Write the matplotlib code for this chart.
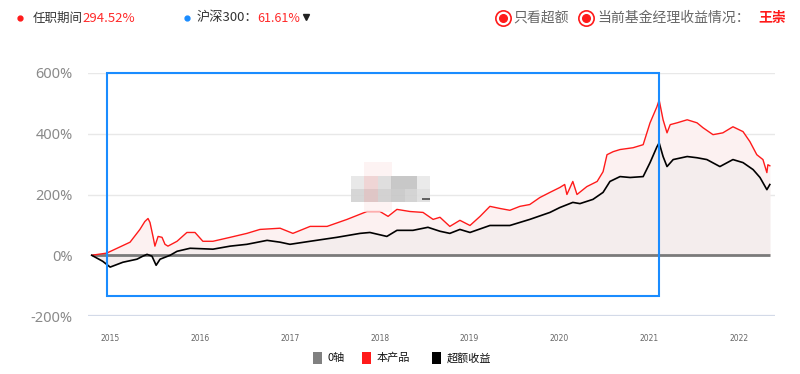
import matplotlib
matplotlib.use("Agg")
import matplotlib.pyplot as plt
import matplotlib.dates as mdates
from matplotlib.patches import Rectangle
from matplotlib.lines import Line2D
import pandas as pd

plt.rcParams['font.family'] = ['Noto Sans CJK SC', 'DejaVu Sans']

# ---------------- data ----------------
red_dates = ['2014-10-18', '2014-12-18', '2015-03-23', '2015-05-02', '2015-05-22', '2015-06-04',
             '2015-06-12', '2015-06-25', '2015-07-02', '2015-07-15', '2015-07-31', '2015-08-12',
             '2015-08-24', '2015-09-30', '2015-11-09', '2015-12-12', '2016-01-13', '2016-02-23',
             '2016-05-03', '2016-07-10', '2016-09-01', '2016-11-22', '2017-01-13', '2017-03-24',
             '2017-06-01', '2017-08-21', '2017-11-10', '2018-01-02', '2018-02-04', '2018-03-12',
             '2018-05-04', '2018-06-26', '2018-08-06', '2018-09-03', '2018-10-13', '2018-11-23',
             '2019-01-03', '2019-02-13', '2019-03-25', '2019-05-05', '2019-06-14', '2019-07-25',
             '2019-09-03', '2019-10-14', '2019-11-24', '2020-01-03', '2020-01-23', '2020-02-01',
             '2020-02-25', '2020-03-13', '2020-04-22', '2020-06-03', '2020-06-27', '2020-07-13',
             '2020-08-07', '2020-09-04', '2020-10-27', '2020-12-07', '2021-01-04', '2021-02-01',
             '2021-02-10', '2021-02-26', '2021-03-14', '2021-03-27', '2021-04-24', '2021-06-04',
             '2021-07-14', '2021-08-07', '2021-09-17', '2021-10-27', '2021-12-07', '2022-01-17',
             '2022-02-14', '2022-03-14', '2022-04-08', '2022-04-24', '2022-04-28', '2022-05-06']
red_vals = [0, 7, 43, 85, 111, 121,
            108, 59, 30, 62, 59, 36,
            30, 46, 75, 75, 46, 46,
            59, 72, 85, 89, 72, 95,
            95, 118, 144, 144, 128, 151,
            144, 141, 118, 125, 95, 115,
            98, 128, 161, 154, 148, 161,
            167, 190, 207, 223, 233, 200,
            243, 200, 226, 243, 275, 331,
            341, 348, 354, 364, 436, 489,
            511, 446, 403, 430, 436, 446,
            436, 420, 397, 403, 423, 407,
            374, 331, 315, 272, 298, 294.52]

black_dates = ['2014-10-18', '2014-12-02', '2015-01-01', '2015-02-22', '2015-04-20', '2015-05-14',
               '2015-05-31', '2015-06-20', '2015-07-07', '2015-07-23', '2015-09-02', '2015-09-30',
               '2015-11-22', '2016-02-23', '2016-05-03', '2016-07-10', '2016-09-30', '2016-11-22',
               '2017-01-01', '2017-03-24', '2017-07-11', '2017-10-13', '2017-11-22', '2018-01-30',
               '2018-03-12', '2018-05-16', '2018-07-16', '2018-09-03', '2018-10-13', '2018-11-23',
               '2019-01-03', '2019-03-25', '2019-06-14', '2019-09-03', '2019-11-24', '2020-01-03',
               '2020-02-25', '2020-03-25', '2020-05-17', '2020-06-27', '2020-07-25', '2020-09-04',
               '2020-10-15', '2020-12-07', '2021-01-04', '2021-02-01', '2021-02-10', '2021-02-26',
               '2021-03-14', '2021-04-08', '2021-06-04', '2021-07-14', '2021-08-23', '2021-10-15',
               '2021-12-07', '2022-01-17', '2022-02-27', '2022-03-27', '2022-04-24', '2022-05-06']
black_vals = [0, -20, -39, -23, -13, -3,
              3, -3, -33, -13, 0, 13,
              23, 20, 30, 36, 49, 43,
              36, 46, 59, 72, 75, 62,
              82, 82, 92, 79, 72, 85,
              75, 98, 98, 118, 141, 157,
              174, 170, 184, 207, 243, 259,
              256, 259, 305, 357, 370, 325,
              292, 315, 325, 321, 315, 292,
              315, 305, 282, 256, 216, 232.91]

year_ticks = ['2015', '2016', '2017', '2018', '2019', '2020', '2021', '2022']
y_ticks = [-200, 0, 200, 400, 600]

red_dt = pd.to_datetime(red_dates)
black_dt = pd.to_datetime(black_dates)

# ---------------- figure ----------------
fig = plt.figure(figsize=(8.0, 3.74), dpi=100)
W, H = 800, 374
ax = fig.add_axes([88 / W, 1 - 316 / H, (775 - 88) / W, (316 - 73) / H])

ax.set_xlim(pd.Timestamp('2014-10-03'), pd.Timestamp('2022-05-27'))
ax.set_ylim(-200, 600)

# gridlines
for v in y_ticks:
    if v == -200:
        ax.axhline(v, color='#d3dae8', lw=1.6, zorder=1)
    elif v != 0:
        ax.axhline(v, color='#e8e8e8', lw=1.0, zorder=1)

# fills
ax.fill_between(red_dt, red_vals, 0, color='#fcf1f1', lw=0, zorder=2)
ax.fill_between(black_dt, black_vals, 0, color='#f4eded', lw=0, zorder=3)

# zero axis series
ax.plot([red_dt[0], red_dt[-1]], [0, 0], color='#7a7a7a', lw=2.0, zorder=4, solid_capstyle='butt')
ax.plot(red_dt, red_vals, color='#ff1a1a', lw=1.0, zorder=5)
ax.plot(black_dt, black_vals, color='#000000', lw=1.2, zorder=6)

# ticks
ax.set_yticks(y_ticks)
ax.set_yticklabels([f'{v}%' for v in y_ticks], fontsize=10.5, color='#8a8a8a', family=['Noto Sans', 'DejaVu Sans'])
ax.set_xticks(pd.to_datetime([f'{y}-01-01' for y in year_ticks]))
ax.set_xticklabels(year_ticks, fontsize=5.5, color='#666666', family=['DejaVu Sans'])
ax.tick_params(axis='y', length=0, pad=11)
ax.tick_params(axis='x', length=0, pad=13)
for s in ax.spines.values():
    s.set_visible(False)

# brush box (selection overlay)
box_x0 = mdates.date2num(pd.Timestamp('2014-12-18'))
box_x1 = mdates.date2num(pd.Timestamp('2021-02-10'))
box = Rectangle((box_x0, -134), box_x1 - box_x0, 734, fill=False, edgecolor='#1a8cff',
                lw=1.5, zorder=7, clip_on=False)
ax.add_patch(box)

# mosaic watermark
def px_rect(x0, y0, x1, y1, color, alpha=1.0, z=8):
    fig.patches.append(Rectangle((x0 / W, 1 - y1 / H), (x1 - x0) / W, (y1 - y0) / H,
                                 transform=fig.transFigure, color=color, alpha=alpha,
                                 zorder=z, lw=0))

px_rect(364, 162, 392, 212, '#fdeeee', 0.7, 7.5)
row1 = [(351, 364, '#e6e6e6'), (364, 378, '#eed2d2'), (378, 391, '#dcdcdc'),
        (391, 417, '#c2c2c2'), (417, 430, '#e8e8e8')]
row2 = [(351, 364, '#d2d2d2'), (364, 378, '#dcc2c2'), (378, 391, '#cfcfcf'),
        (391, 405, '#c7c7c7'), (405, 417, '#d0d0d0'), (417, 430, '#dedede')]
for x0, x1, c in row1:
    px_rect(x0, 176, x1, 189, c, 0.9)
for x0, x1, c in row2:
    px_rect(x0, 189, x1, 202, c, 0.9)
px_rect(422, 198, 430, 200, '#555555', 0.9)

# ---------------- header ----------------
hy = 1 - 18 / H
def fig_marker(xp, yfig, **kw):
    fig.add_artist(Line2D([xp / W], [yfig], transform=fig.transFigure, **kw))

fig_marker(20, hy, marker='o', markersize=3.5, color='#ff1a1a', lw=0)
fig.text(33 / W, hy, '任职期间', fontsize=9, color='#333333', va='center', ha='left')
fig.text(82 / W, hy, '294.52%', fontsize=9.5, color='#ff2a2a', va='center', ha='left')
fig_marker(187, hy, marker='o', markersize=3.5, color='#1a8cff', lw=0)
fig.text(197 / W, hy, '沪深300：', fontsize=9.5, color='#333333', va='center', ha='left')
fig.text(257 / W, hy, '61.61%', fontsize=9, color='#ff2a2a', va='center', ha='left')
fig_marker(306, hy + 0.003, marker='v', markersize=4, color='#222222', lw=0)

fig_marker(503, hy, marker='o', markersize=11, markerfacecolor='white',
           markeredgecolor='#ff1a1a', markeredgewidth=1.2, lw=0)
fig_marker(503, hy, marker='o', markersize=5.5, color='#ff1a1a', lw=0)
fig.text(513 / W, hy, '只看超额', fontsize=10, color='#666666', va='center', ha='left')
fig_marker(586, hy, marker='o', markersize=11, markerfacecolor='white',
           markeredgecolor='#ff1a1a', markeredgewidth=1.2, lw=0)
fig_marker(586, hy, marker='o', markersize=5.5, color='#ff1a1a', lw=0)
fig.text(597 / W, hy, '当前基金经理收益情况：', fontsize=10, color='#666666', va='center', ha='left')
fig.text(758 / W, hy, '王崇', fontsize=10, color='#ff1a1a', va='center', ha='left', fontweight='bold')

# ---------------- legend ----------------
ly = 358
legend_items = [('0轴', '#808080', 313, 328), ('本产品', '#ff1a1a', 362, 377), ('超额收益', '#000000', 432, 447)]
for label, col, sx, tx in legend_items:
    px_rect(sx, ly - 6, sx + 9, ly + 6, col, 1.0, 9)
    fig.text(tx / W, 1 - ly / H, label, fontsize=8, color='#111111', va='center', ha='left')

fig.savefig('out.png', dpi=100, facecolor='white')
